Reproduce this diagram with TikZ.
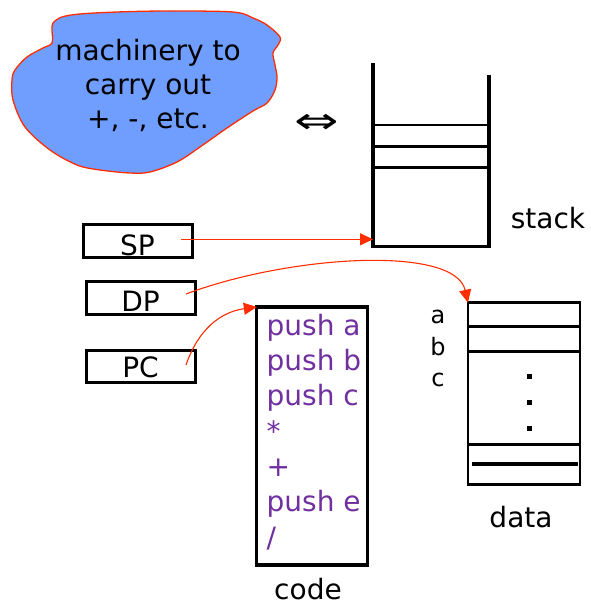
\documentclass[tikz,border=0pt]{standalone}
\usepackage{fontspec}
\setmainfont{DejaVu Sans}
\usetikzlibrary{arrows.meta}
\definecolor{blobblue}{RGB}{112,158,255}
\definecolor{ptrred}{RGB}{255,45,0}
\definecolor{codepurple}{RGB}{112,48,160}
\tikzset{
  big/.style={font=\fontsize{28}{35.3}\selectfont},
  small/.style={font=\fontsize{24}{28}\selectfont},
  regbox/.style={draw, line width=3pt, inner sep=0pt, outer sep=0pt, minimum width=109pt,
    font=\fontsize{28}{28}\selectfont},
  ptr/.style={draw=ptrred, line width=1.1pt, -{Triangle[length=13pt,width=12pt]}},
  thick3/.style={line width=3.2pt},
  memline/.style={line width=2.7pt},
}
\begin{document}
\begin{tikzpicture}[x=1pt,y=-1pt]
\useasboundingbox (0,0) rectangle (591,605);

% the blob of arithmetic machinery
\draw[draw=ptrred, line width=1.3pt, fill=blobblue]
  plot[smooth cycle, tension=0.55] coordinates {
  (53,23) (62,17) (80,14) (117,12) (167,11) (233,12) (253,18) (267,25)
  (280,37) (278,45) (273,53) (275,65) (277,77) (275,90) (267,103) (253,111)
  (227,128) (200,147) (177,162) (150,172) (130,173) (100,170) (77,165)
  (50,150) (25,127) (13,100) (12,80) (15,70) (27,57) (43,48) (52,43) (52,30)};
\node[font=\fontsize{28}{34}\selectfont, align=center, anchor=base, inner sep=0pt] (mach) at (148,128)
  {machinery to\\carry out\\+, -, etc.};

% exchange symbol
\node[inner sep=0pt] (xchg) at (317,124)
  {\scalebox{1.9}[1.3]{\fontsize{28}{28}\selectfont ⇔}};

% the stack
\coordinate (stl) at (373,63);
\coordinate (str) at (489,75);
\coordinate (sbl) at (373,246.5);
\coordinate (sbr) at (489,246.5);
\draw[thick3, line join=miter] (stl) -- (sbl) -- (sbr) -- (str);
\foreach \yy in {125,146.7,167.3}
  \draw[memline] (374,\yy) -- (488,\yy);
\node[big, anchor=base, inner sep=0pt] (stacklbl) at (548,228) {stack};

% registers
\node[regbox, text height=31.5pt, text depth=1.5pt] (sp) at (137.5,240.5) {SP};
\node[regbox, text height=30pt, text depth=3pt] (dp) at (140.5,297.5) {DP};
\node[regbox, text height=27.5pt, text depth=4.5pt] (pc) at (140.5,366) {PC};

% code segment
\node[draw, thick3, minimum width=111pt, minimum height=258pt, inner sep=0pt, outer sep=0pt]
  (code) at (312.3,436) {};
\node[big, text=codepurple, align=left, anchor=base west, inner sep=0pt] (prog) at (266.5,547)
  {push a\\push b\\push c\\*\\+\\push e\\/};
\node[big, anchor=base, inner sep=0pt] (codelbl) at (308,599) {code};

% data segment
\node[draw, line width=2.9pt, minimum width=112pt, minimum height=181.6pt, inner sep=0pt, outer sep=0pt]
  (data) at (524,393.5) {};
\foreach \yy in {326.7,351.7,444.3}
  \draw[memline] (468,\yy) -- (580,\yy);
\draw[line width=3.4pt] (472,464) -- (578,464);
\foreach \yy in {376,402,428}
  \fill (526.5,\yy-2.5) rectangle ++(5,5);
\node[small, anchor=base, inner sep=0pt] (va) at (438,323) {a};
\node[small, anchor=base, inner sep=0pt] (vb) at (438,355) {b};
\node[small, anchor=base, inner sep=0pt] (vc) at (438,386.5) {c};
\node[big, anchor=base, inner sep=0pt] (datalbl) at (521,527) {data};

% pointers
\coordinate (spo) at (181,239.3);
\coordinate (spt) at (373,239.3);
\coordinate (dpo) at (186,294);
\coordinate (pco) at (186,365);
\draw[ptr] (spo) -- (spt);
\draw[ptr] (dpo) .. controls (290,255) and (455,245) .. (data.north west);
\draw[ptr] (pco) .. controls (198,330) and (220,312) .. (code.north west);
\end{tikzpicture}
\end{document}
